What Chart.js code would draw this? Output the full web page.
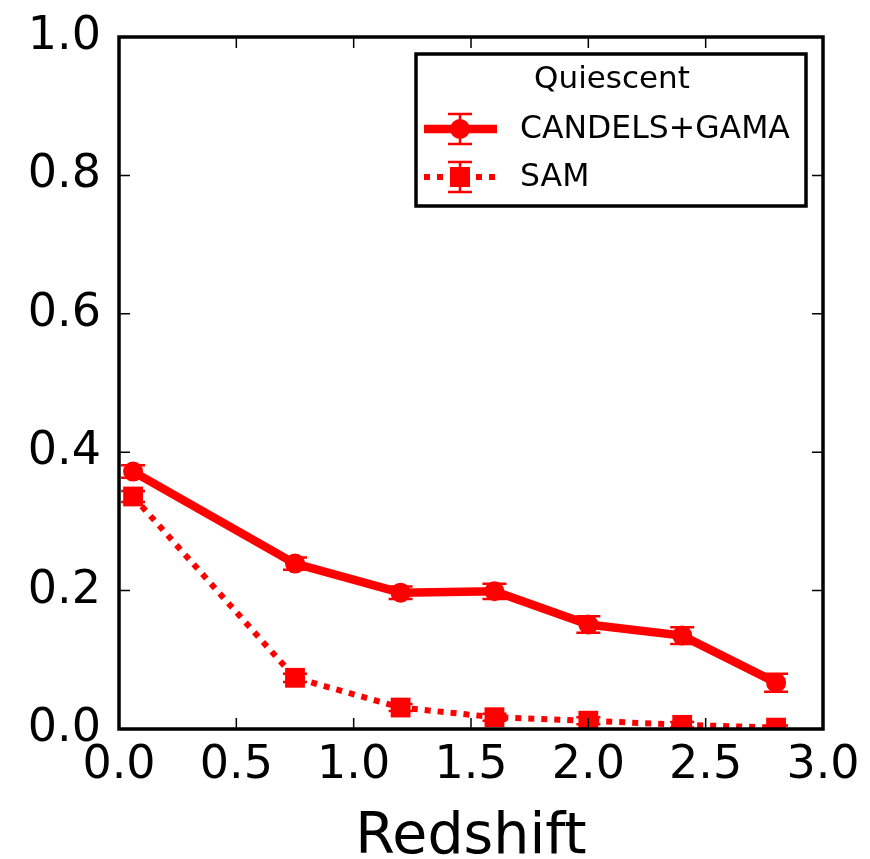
<!DOCTYPE html>
<html>
<head>
<meta charset="utf-8">
<script src="https://cdn.jsdelivr.net/npm/chart.js@4.4.1/dist/chart.umd.min.js"></script>
<style>
  html, body { margin: 0; padding: 0; background: #fff; }
  #myChart { display: block; }
</style>
</head>
<body>
<canvas id="myChart" width="870" height="859"></canvas>
<script>
// quiescent fraction vs redshift
const redshift = [0.06, 0.75, 1.2, 1.6, 2.0, 2.4, 2.8]
const candelsFrac = [0.372, 0.239, 0.197, 0.199, 0.151, 0.135, 0.067]
const candelsErr = [0.009, 0.009, 0.009, 0.011, 0.012, 0.012, 0.013]
const samFrac = [0.336, 0.074, 0.031, 0.017, 0.012, 0.006, 0.002]
const samErr = [0.008, 0.006, 0.005, 0.005, 0.005, 0.004, 0.003]
const xTicks = [0, 0.5, 1.0, 1.5, 2.0, 2.5, 3.0]
const yTicks = [0, 0.2, 0.4, 0.6, 0.8, 1.0]
const legendTitle = 'Quiescent'
const red = '#ff0000'

const pts = (xs, ys) => xs.map((x, i) => ({x: x, y: ys[i]}))

// error bars under the markers
const errorBars = {
  id: 'errorBars',
  beforeDatasetsDraw(chart) {
    const ctx = chart.ctx
    const xs = chart.scales.x, ys = chart.scales.y
    const a = chart.chartArea
    ctx.save()
    ctx.beginPath()
    ctx.rect(a.left, a.top, a.right - a.left, a.bottom - a.top)
    ctx.clip()
    chart.data.datasets.forEach(ds => {
      ctx.strokeStyle = red
      ctx.lineWidth = 2.5
      ds.data.forEach((p, i) => {
        const px = xs.getPixelForValue(p.x)
        const y1 = ys.getPixelForValue(p.y - ds.err[i])
        const y2 = ys.getPixelForValue(p.y + ds.err[i])
        ctx.beginPath()
        ctx.moveTo(px, y1); ctx.lineTo(px, y2)
        ctx.moveTo(px - 12, y1); ctx.lineTo(px + 12, y1)
        ctx.moveTo(px - 12, y2); ctx.lineTo(px + 12, y2)
        ctx.stroke()
      })
    })
    ctx.restore()
  }
}

// box frame with inward ticks on all four sides, plus the legend box
const frame = {
  id: 'frame',
  afterDraw(chart) {
    const ctx = chart.ctx
    const a = chart.chartArea
    const xs = chart.scales.x, ys = chart.scales.y
    const tl = 11
    ctx.save()
    ctx.strokeStyle = '#000'
    ctx.lineWidth = 1.5
    ctx.beginPath()
    xTicks.forEach(v => {
      const px = xs.getPixelForValue(v)
      ctx.moveTo(px, a.bottom); ctx.lineTo(px, a.bottom - tl)
      ctx.moveTo(px, a.top); ctx.lineTo(px, a.top + tl)
    })
    yTicks.forEach(v => {
      const py = ys.getPixelForValue(v)
      ctx.moveTo(a.left, py); ctx.lineTo(a.left + tl, py)
      ctx.moveTo(a.right, py); ctx.lineTo(a.right - tl, py)
    })
    ctx.stroke()
    ctx.lineWidth = 3.5
    ctx.strokeRect(a.left, a.top, a.right - a.left, a.bottom - a.top)

    // legend
    const lx = 416, ly = 54, lw = 390, lh = 152
    ctx.fillStyle = '#fff'
    ctx.fillRect(lx, ly, lw, lh)
    ctx.lineWidth = 3.5
    ctx.strokeRect(lx, ly, lw, lh)
    ctx.fillStyle = '#000'
    ctx.font = '31px "DejaVu Sans"'
    ctx.textAlign = 'center'
    ctx.textBaseline = 'middle'
    ctx.fillText(legendTitle, 612, 80)
    ctx.textAlign = 'left'
    ctx.font = '31.5px "DejaVu Sans"'
    chart.data.datasets.forEach((ds, i) => {
      const cy = 129 + i * 48
      const cx = 460
      ctx.strokeStyle = red
      ctx.lineWidth = ds.borderWidth
      ctx.setLineDash(ds.borderDash || [])
      ctx.beginPath()
      ctx.moveTo(424, cy); ctx.lineTo(497, cy)
      ctx.stroke()
      ctx.setLineDash([])
      ctx.lineWidth = 2.5
      ctx.beginPath()
      ctx.moveTo(cx, cy - 15); ctx.lineTo(cx, cy + 15)
      ctx.moveTo(cx - 12, cy - 15); ctx.lineTo(cx + 12, cy - 15)
      ctx.moveTo(cx - 12, cy + 15); ctx.lineTo(cx + 12, cy + 15)
      ctx.stroke()
      ctx.fillStyle = red
      if (ds.pointStyle === 'rect') {
        ctx.fillRect(cx - 10, cy - 10, 20, 20)
      } else {
        ctx.beginPath()
        ctx.arc(cx, cy, 10, 0, Math.PI * 2)
        ctx.fill()
      }
      ctx.fillStyle = '#000'
      ctx.fillText(ds.label, 520, cy + 1)
    })
    ctx.restore()
  }
}

const data = {
  datasets: [{
    label: 'CANDELS+GAMA',
    data: pts(redshift, candelsFrac),
    err: candelsErr,
    borderColor: red,
    backgroundColor: red,
    borderWidth: 8.5,
    pointStyle: 'circle',
    pointRadius: 10,
    pointBorderWidth: 0,
    clip: 0
  }, {
    label: 'SAM',
    data: pts(redshift, samFrac),
    err: samErr,
    borderColor: red,
    backgroundColor: red,
    borderWidth: 6,
    borderDash: [6, 7],
    pointStyle: 'rect',
    pointRadius: 14,
    pointBorderWidth: 0,
    clip: 0
  }]
}

const tickFont = {family: '"DejaVu Sans"', size: 46, lineHeight: 1}

const config = {
  type: 'line',
  data: data,
  plugins: [errorBars, frame],
  options: {
    responsive: false,
    animation: false,
    layout: {padding: {top: 37, right: 47, left: 0, bottom: 0}},
    plugins: {legend: {display: false}, tooltip: {enabled: false}},
    scales: {
      x: {
        type: 'linear',
        min: 0, max: 3,
        afterFit: s => { s.height = 130; s.paddingLeft = 0; s.paddingRight = 0 },
        afterBuildTicks: s => { s.ticks = xTicks.map(v => ({value: v})) },
        grid: {display: false, drawTicks: false},
        border: {display: false},
        ticks: {color: '#000', font: tickFont, padding: 14, maxRotation: 0, callback: v => v.toFixed(1)},
        title: {display: true, text: 'Redshift', color: '#000', font: {family: '"DejaVu Sans"', size: 57, lineHeight: 0.74}, padding: 0}
      },
      y: {
        min: 0, max: 1,
        afterFit: s => { s.width = 119; s.paddingTop = 0; s.paddingBottom = 0 },
        afterBuildTicks: s => { s.ticks = yTicks.map(v => ({value: v})) },
        grid: {display: false, drawTicks: false},
        border: {display: false},
        ticks: {color: '#000', font: tickFont, padding: 18, callback: v => v.toFixed(1)}
      }
    }
  }
}

const myChart = new Chart(document.getElementById('myChart'), config)
</script>
</body>
</html>
